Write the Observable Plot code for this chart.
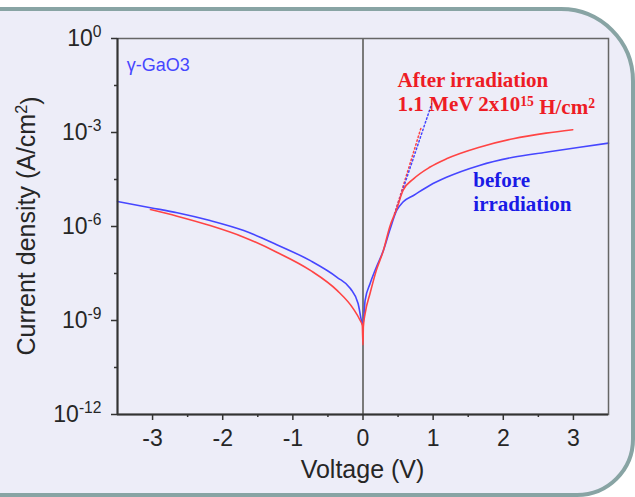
<!DOCTYPE html>
<html><head><meta charset="utf-8">
<script src="https://cdn.jsdelivr.net/npm/d3@7"></script>
<script src="https://cdn.jsdelivr.net/npm/@observablehq/plot@0.6"></script>
<style>
html,body{margin:0;padding:0;background:#fff;overflow:hidden;}
#wrap{position:relative;width:635px;height:497px;overflow:hidden;}
#panel{position:absolute;left:-20px;top:7px;width:647px;height:482px;border:4px solid #88a4a4;border-radius:0 74px 58px 0;background:#ededf8;}
#chart{position:absolute;left:0;top:0;}
</style></head>
<body><div id="wrap"><div id="panel"></div><div id="chart"></div></div>
<script>
// Before irradiation (blue): voltage (V) and log10 of current density (A/cm^2)
const voltsBlue = [-3.5,-3.03,-2.65,-2.18,-1.70,-1.23,-0.75,-0.37,-0.18,-0.07,-0.01,0,0.03,0.10,0.19,0.29,0.38,0.48,0.57,0.72,0.95,1.19,1.66,2.14,2.61,3.09,3.5];
const logJBlue  = [-5.20,-5.40,-5.56,-5.81,-6.13,-6.58,-7.09,-7.62,-7.98,-8.46,-9.10,-9.15,-8.36,-7.83,-7.30,-6.77,-6.13,-5.49,-5.22,-5.01,-4.69,-4.43,-4.05,-3.79,-3.63,-3.47,-3.34];
// After irradiation (red)
const voltsRed = [-3.03,-2.65,-2.18,-1.70,-1.23,-0.75,-0.37,-0.14,-0.04,-0.01,0,0.005,0.03,0.10,0.19,0.29,0.38,0.48,0.57,0.72,0.95,1.19,1.66,2.14,2.61,2.99];
const logJRed  = [-5.46,-5.67,-5.97,-6.34,-6.82,-7.40,-8.04,-8.62,-9.00,-9.16,-9.78,-9.20,-8.78,-8.14,-7.40,-6.77,-6.02,-5.44,-4.85,-4.48,-4.11,-3.84,-3.47,-3.20,-3.02,-2.91];
// Dotted exponential fit lines
const fitVoltsRed = [0.45, 0.83];
const fitLogRed   = [-5.6, -2.83];
const fitVoltsBlue = [0.45, 0.98];
const fitLogBlue   = [-5.6, -2.08];
// Ticks
const xMajor = [-3,-2,-1,0,1,2,3];
const xMinor = [-2.5,-1.5,-0.5,0.5,1.5,2.5];
const yMajorExp = [0,-3,-6,-9,-12];
const yMinorExp = [-1.5,-4.5,-7.5,-10.5];

const toRows = (vs, ls) => vs.map((v, i) => ({V: v, J: Math.pow(10, ls[i])}));
const blue = toRows(voltsBlue, logJBlue);
const red = toRows(voltsRed, logJRed);
const fitRed = toRows(fitVoltsRed, fitLogRed);
const fitBlue = toRows(fitVoltsBlue, fitLogBlue);

const BLUE = "#4646ff", RED = "#ff4444";

const plot = Plot.plot({
  width: 635, height: 497,
  marginLeft: 117, marginRight: 27, marginTop: 38, marginBottom: 83,
  style: {background: "transparent", fontFamily: "'Liberation Sans', Arial, sans-serif", fontSize: "23px", color: "#262626"},
  x: {domain: [-3.5, 3.5]},
  y: {type: "log", domain: [1e-12, 1]},
  marks: [
    Plot.ruleX([0], {stroke: "#7a7a7a", strokeWidth: 2}),
    Plot.line(fitRed, {x: "V", y: "J", stroke: RED, strokeWidth: 1.5, strokeDasharray: "1.5,2.5"}),
    Plot.line(fitBlue, {x: "V", y: "J", stroke: BLUE, strokeWidth: 1.5, strokeDasharray: "1.5,2.5"}),
    Plot.line(blue, {x: "V", y: "J", stroke: BLUE, strokeWidth: 1.6, curve: "monotone-x"}),
    Plot.line(red, {x: "V", y: "J", stroke: RED, strokeWidth: 1.6, curve: "monotone-x"}),
    Plot.frame({stroke: "#666", strokeWidth: 1.5}),
    Plot.ruleX([-3.5], {stroke: "#333", strokeWidth: 2}),
    Plot.ruleY([1e-12], {stroke: "#333", strokeWidth: 2}),
    Plot.axisX({ticks: xMajor, tickSize: 6, tickPadding: 9, label: null, tickFormat: d => String(d), stroke: "#333", strokeWidth: 1.5}),
    Plot.axisX({ticks: xMinor, tickSize: 3, label: null, tickFormat: () => "", stroke: "#333", strokeWidth: 1.5}),
    Plot.axisY({ticks: yMajorExp.map(e => Math.pow(10, e)), tickSize: 6, tickPadding: 10, label: null,
      tickFormat: d => String(Math.round(Math.log10(d))), stroke: "#333", strokeWidth: 1.5}),
    Plot.axisY({ticks: yMinorExp.map(e => Math.pow(10, e)), tickSize: 3, label: null, tickFormat: () => "", stroke: "#333", strokeWidth: 1.5})
  ]
});
document.getElementById("chart").appendChild(plot);

const svg = d3.select(plot);
// superscript y tick labels: 10^k
svg.selectAll('g[aria-label="y-axis tick label"] text').each(function() {
  const e = this.textContent;
  if (!e) return;
  this.textContent = "";
  const t = d3.select(this);
  t.append("tspan").text("10");
  t.append("tspan").attr("dy", "-0.55em").attr("font-size", "0.68em").text(e);
});

// axis titles
svg.append("text").attr("x", 362.5).attr("y", 478).attr("text-anchor", "middle")
  .attr("font-size", 25).attr("fill", "#262626").text("Voltage (V)");
const yl = svg.append("text").attr("transform", "translate(35,226) rotate(-90)").attr("text-anchor", "middle")
  .attr("font-size", 25).attr("fill", "#262626");
yl.append("tspan").text("Current density (A/cm");
yl.append("tspan").attr("dy", "-0.5em").attr("font-size", "0.65em").text("2");
yl.append("tspan").attr("dy", "0.5em").text(")");

// annotations positioned through the plot's scales
const sx = plot.scale("x").apply, sy = plot.scale("y").apply;
const ann = svg.append("g").attr("text-anchor", "start");
ann.append("text").attr("x", sx(-3.36)).attr("y", sy(Math.pow(10, -1.05)))
  .attr("font-size", 18).attr("fill", BLUE).text("γ-GaO3");
const serif = "'Liberation Serif','Times New Roman',serif";
ann.append("text").attr("x", sx(0.50)).attr("y", sy(Math.pow(10, -1.56)))
  .attr("font-family", serif).attr("font-weight", "bold").attr("font-size", 21).attr("fill", "#ee1c25").text("After irradiation");
const a2 = ann.append("text").attr("x", sx(0.50)).attr("y", sy(Math.pow(10, -2.33)))
  .attr("font-family", serif).attr("font-weight", "bold").attr("font-size", 21).attr("fill", "#ee1c25");
a2.append("tspan").text("1.1 MeV 2x10");
a2.append("tspan").attr("dy", "-0.4em").attr("font-size", "0.65em").text("15");
a2.append("tspan").attr("dy", "0.4em").text(" H/cm");
a2.append("tspan").attr("dy", "-0.4em").attr("font-size", "0.65em").text("2");
ann.append("text").attr("x", sx(1.58)).attr("y", sy(Math.pow(10, -4.76)))
  .attr("font-family", serif).attr("font-weight", "bold").attr("font-size", 21).attr("fill", "#1a1ae6").text("before");
ann.append("text").attr("x", sx(1.58)).attr("y", sy(Math.pow(10, -5.52)))
  .attr("font-family", serif).attr("font-weight", "bold").attr("font-size", 21).attr("fill", "#1a1ae6").text("irradiation");
</script>
</body></html>
